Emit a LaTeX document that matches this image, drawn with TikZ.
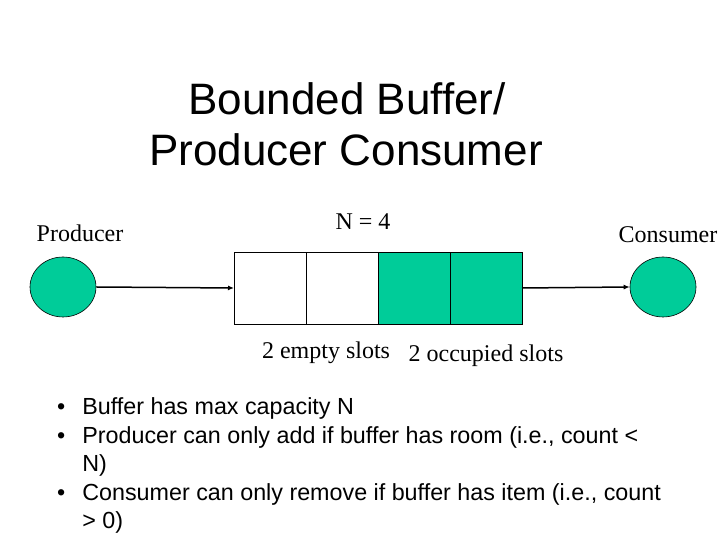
\documentclass[tikz,border=0pt]{standalone}
\usepackage{fontspec}
\setmainfont{Liberation Serif}
\setsansfont{Liberation Sans}
\usetikzlibrary{arrows.meta,positioning,shapes.geometric}
\definecolor{slotgreen}{HTML}{00CC99}
\tikzset{
  agent/.style={ellipse, draw=black, fill=slotgreen, line width=0.6pt,
    minimum width=66pt, minimum height=60pt, inner sep=0pt},
  cell/.style={draw=black, line width=0.8pt, minimum size=72pt,
    inner sep=0pt, outer sep=0pt},
  fullcell/.style={cell, fill=slotgreen},
  lbl/.style={font=\fontsize{24}{28}\selectfont},
  flow/.style={-{Latex[length=6pt,width=5pt]}, line width=1.5pt},
}

\begin{document}
\begin{tikzpicture}[x=1pt,y=1pt]
  \useasboundingbox (0,0) rectangle (720,540);
  % title
  \node[anchor=base, font=\sffamily\fontsize{44}{51}\selectfont] (title1) at (347,425) {Bounded Buffer/};
  \node[anchor=base, font=\sffamily\fontsize{44}{51}\selectfont] (title2) at (346,374) {Producer Consumer};
  % producer, buffer, consumer
  \node[agent] (prod) at (63,253) {};
  \node[agent] (cons) at (663,253) {};
  \node[cell] (slot1) at (270,252) {};
  \node[cell, right=0pt of slot1] (slot2) {};
  \node[fullcell, right=0pt of slot2] (slot3) {};
  \node[fullcell, right=0pt of slot3] (slot4) {};
  \draw[flow] (prod.east) -- (slot1.west);
  \draw[flow] (slot4.east) -- (cons.west);
  % labels
  \node[lbl] (prodlbl) at (80,307) {Producer};
  \node[lbl] (conslbl) at (668,305) {Consumer};
  \node[lbl] (nlbl) at (363,318) {N = 4};
  \node[lbl] (emptylbl) at (326,187) {2 empty slots};
  \node[lbl] (occlbl) at (486,184) {2 occupied slots};
  % bullets
  \node[anchor=base west, inner sep=0pt, font=\sffamily\fontsize{23.3}{28.5}\selectfont] (notes) at (57,125) {%
    \renewcommand{\arraystretch}{1}%
    \begin{tabular}[t]{@{}l@{\hspace{17pt}}l@{}}
      \textbullet & Buffer has max capacity N\\
      \textbullet & Producer can only add if buffer has room (i.e., count <\\
                  & N)\\
      \textbullet & Consumer can only remove if buffer has item (i.e., count\\
                  & > 0)
    \end{tabular}};
\end{tikzpicture}
\end{document}
